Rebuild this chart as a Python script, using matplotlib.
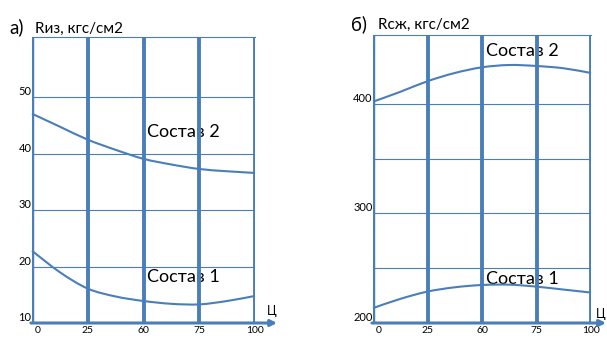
import matplotlib
matplotlib.use('Agg')
import matplotlib.pyplot as plt
from matplotlib.path import Path
from matplotlib.patches import PathPatch

plt.rcParams['font.family'] = ['Lato', 'DejaVu Sans']

blue = '#4a7ebb'

# x categories (equal spacing on the chart)
x_labels = ['0', '25', '60', '75', '100']
# curves read at half-steps between the categories
x_half = [0, 0.5, 1, 1.5, 2, 2.5, 3, 3.5, 4]

# а) Rиз
riz_2 = [47.1, 44.8, 42.5, 40.7, 39.1, 38.1, 37.3, 36.9, 36.6]
riz_1 = [22.8, 19.0, 16.1, 14.7, 13.9, 13.4, 13.3, 13.9, 14.8]
riz_ticks = [10, 20, 30, 40, 50]

# б) Rсж
rsj_2 = [402.1, 411.1, 420.8, 428.3, 433.5, 435.6, 434.7, 432.6, 428.3]
rsj_1 = [213.6, 222.0, 228.7, 232.6, 234.7, 235.0, 233.2, 230.5, 227.8]
rsj_grid = [250, 300, 350, 400]
rsj_labels = [200, 300, 400]

fig = plt.figure(figsize=(6.07, 3.40), dpi=100)
W, H = 607, 340

ax1 = fig.add_axes([32 / W, 17 / H, 223 / W, 286 / H])
ax2 = fig.add_axes([373 / W, 17 / H, 218 / W, 288 / H])


def smooth_curve(ax, xs, ys):
    # smooth line through the read points (Catmull-Rom drawn as cubic Bezier)
    pts = list(zip(xs, ys))
    n = len(pts)
    verts = [pts[0]]
    codes = [Path.MOVETO]
    for i in range(n - 1):
        p0 = pts[max(i - 1, 0)]
        p1 = pts[i]
        p2 = pts[i + 1]
        p3 = pts[min(i + 2, n - 1)]
        c1 = (p1[0] + (p2[0] - p0[0]) / 6, p1[1] + (p2[1] - p0[1]) / 6)
        c2 = (p2[0] - (p3[0] - p1[0]) / 6, p2[1] - (p3[1] - p1[1]) / 6)
        verts += [c1, c2, p2]
        codes += [Path.CURVE4] * 3
    ax.add_patch(PathPatch(Path(verts, codes), fill=False, edgecolor=blue,
                           lw=1.5, zorder=3, clip_on=False))


def setup(ax, ylo, yhi, grid, labels, arrow_len):
    ax.set_xlim(0, 4)
    ax.set_ylim(ylo, yhi)
    for s in ['left', 'right', 'bottom']:
        ax.spines[s].set_visible(False)
    ax.spines['top'].set_color(blue)
    ax.spines['top'].set_linewidth(0.8)
    ax.set_xticks([])
    ax.set_yticks([])
    for g in grid:
        ax.axhline(g, color=blue, lw=0.8, zorder=1)
    for i in range(5):
        ax.axvline(i, color=blue, lw=2.8 if i else 3.2, zorder=4)
    for i, lab in enumerate(x_labels):
        ax.annotate(lab, (i, ylo), xytext=(4 if i == 0 else 0, -2),
                    textcoords='offset points', ha='center', va='top',
                    fontsize=7.5, annotation_clip=False)
    for v in labels:
        ax.text(-0.01, v, str(v), ha='right', va='bottom', fontsize=8)
    ax.annotate('', xy=(arrow_len, 0), xytext=(-0.005, 0),
                xycoords='axes fraction', textcoords='axes fraction',
                arrowprops=dict(arrowstyle='-|>', color=blue, lw=2.2,
                                mutation_scale=9, shrinkA=0, shrinkB=0),
                annotation_clip=False, zorder=5)


setup(ax1, 10, 60.7, riz_ticks, riz_ticks, 1.099)
setup(ax2, 200, 463, rsj_grid, rsj_labels, 1.069)

smooth_curve(ax1, x_half, riz_1)
smooth_curve(ax1, x_half, riz_2)
smooth_curve(ax2, x_half, rsj_1)
smooth_curve(ax2, x_half, rsj_2)

ax1.text(2.06, 43.8, 'Состав 2', fontsize=13, va='center', zorder=2)
ax1.text(2.06, 18.1, 'Состав 1', fontsize=13, va='center', zorder=2)
ax2.text(2.07, 448, 'Состав 2', fontsize=13, va='center', zorder=2)
ax2.text(2.07, 240, 'Состав 1', fontsize=13, va='center', zorder=2)

fig.text(272 / W, 1 - 311 / H, 'Ц', ha='center', va='center', fontsize=9)
fig.text(606 / W, 1 - 314 / H, 'Ц', ha='right', va='center', fontsize=9)

fig.text(9 / W, 1 - 27 / H, 'а)', fontsize=13.5, va='center')
fig.text(35 / W, 1 - 29 / H, 'Rиз, кгс/см2', fontsize=11, va='center')
fig.text(351 / W, 1 - 24 / H, 'б)', fontsize=13.5, va='center')
fig.text(378 / W, 1 - 25 / H, 'Rсж, кгс/см2', fontsize=11, va='center')

fig.savefig('out.png', dpi=100)
